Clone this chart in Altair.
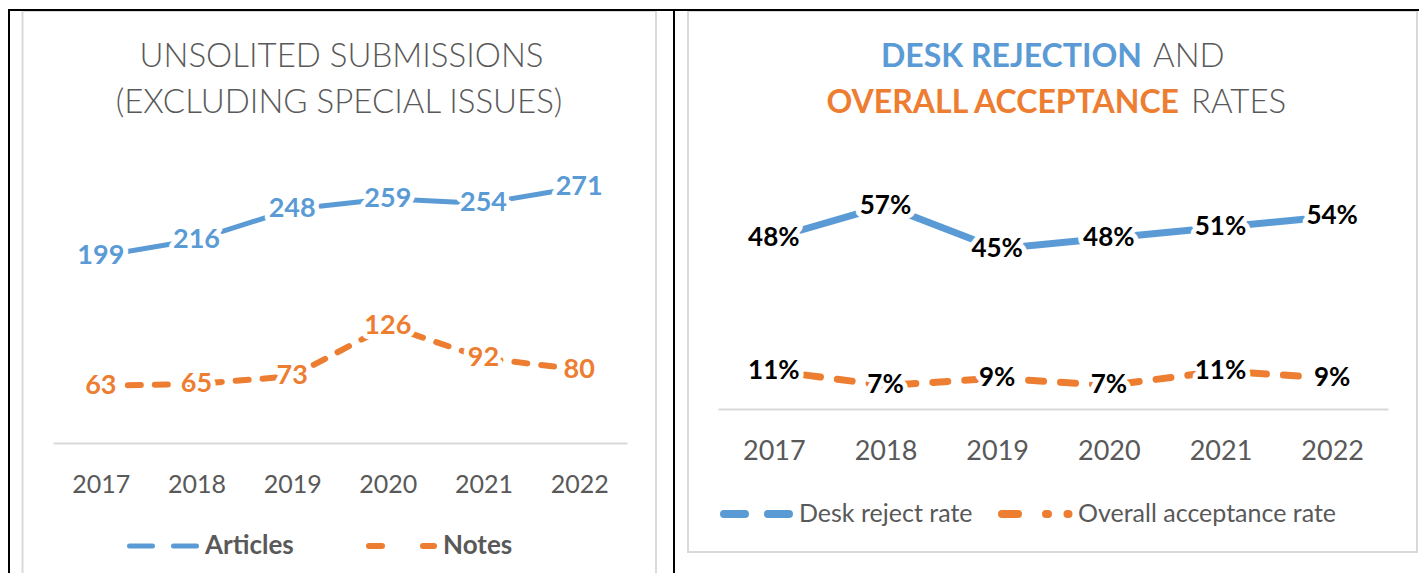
import altair as alt
import pandas as pd

# ---------------- data ----------------
years = ["2017", "2018", "2019", "2020", "2021", "2022"]
articles = [199, 216, 248, 259, 254, 271]
notes = [63, 65, 73, 126, 92, 80]
desk_reject = [0.48, 0.57, 0.45, 0.48, 0.51, 0.54]
acceptance = [0.11, 0.07, 0.09, 0.07, 0.11, 0.09]

BLUE = "#5B9BD5"
ORANGE = "#ED7D31"
GREY = "#595959"
FRAME = "#D9D9D9"
FONT = "Lato"

W, H = 1411, 565
one = pd.DataFrame({"k": [0]})


def frame(name_vals):
    return pd.DataFrame({"year": years, "value": name_vals})


def axis(offset, pad, size):
    return alt.Axis(orient="bottom", offset=offset, labelPadding=pad, labelFontSize=size,
                    labelFont=FONT, labelColor=GREY, labelAngle=0, labelBaseline="middle",
                    ticks=False, tickSize=0, grid=False, title=None, zindex=1,
                    domainColor=FRAME, domainWidth=2)


def series(vals, x, y, color, width, label_fmt, label_size, label_color, **dash):
    base = alt.Chart(frame(vals)).encode(x=x, y=y)
    line = base.mark_line(color=color, strokeWidth=width, strokeCap="round",
                          strokeJoin="round", **dash)
    txt = alt.Text("value:Q", format=label_fmt)
    halo = base.mark_text(font=FONT, fontSize=label_size, fontWeight="bold",
                          fill="white", stroke="white", strokeWidth=10,
                          strokeJoin="round", baseline="middle").encode(text=txt)
    label = base.mark_text(font=FONT, fontSize=label_size, fontWeight="bold",
                           color=label_color, baseline="middle").encode(text=txt)
    return line, halo, label


def deco_text(text, x, y, size, color, weight="normal", align="center"):
    return alt.Chart(one).mark_text(text=text, font=FONT, fontSize=size, fontWeight=weight,
                                    color=color, align=align, baseline="middle").encode(
        x=alt.value(x), y=alt.value(y))


def deco_rule(x1, x2, y, color, width, **kw):
    return alt.Chart(one).mark_rule(color=color, strokeWidth=width, **kw).encode(
        x=alt.value(x1), x2=alt.value(x2), y=alt.value(y))


def deco_vrule(x, y1, y2, color, width):
    return alt.Chart(one).mark_rule(color=color, strokeWidth=width).encode(
        x=alt.value(x), y=alt.value(y1), y2=alt.value(y2))


def deco_rect(x1, x2, y1, y2):
    return alt.Chart(one).mark_rect(filled=False, stroke=FRAME, strokeWidth=2).encode(
        x=alt.value(x1), x2=alt.value(x2), y=alt.value(y1), y2=alt.value(y2))


# ---------------- left panel ----------------
lx = alt.X("year:O", scale=alt.Scale(type="point", padding=0.5, range=[45, 619]),
           axis=axis(-130, 41, 25))
ly = alt.Y("value:Q", scale=alt.Scale(domain=[0, 300], range=[438, 151.5], nice=False), axis=None)

a_line, a_halo, a_lab = series(articles, lx, ly, BLUE, 5, "d", 27, BLUE)
n_line, n_halo, n_lab = series(notes, lx, ly, ORANGE, 6, "d", 27, ORANGE, strokeDash=[13, 14])
left = alt.layer(a_line, n_line, a_halo, n_halo, a_lab, n_lab)

# ---------------- right panel ----------------
rx = alt.X("year:O", scale=alt.Scale(type="point", padding=0.5, range=[710, 1380]),
           axis=axis(-164, 42, 27))
ry = alt.Y("value:Q", scale=alt.Scale(domain=[0, 0.7], range=[402.6, 150.9], nice=False), axis=None)

d_line, d_halo, d_lab = series(desk_reject, rx, ry, BLUE, 7, ".0%", 26, "black")
c_line, c_halo, c_lab = series(acceptance, rx, ry, ORANGE, 7, ".0%", 26, "black", strokeDash=[15, 17])
right = alt.layer(d_line, c_line, d_halo, c_halo, d_lab, c_lab)

# ---------------- decorations ----------------
frames = [deco_rect(14.5, 648, 3, 600), deco_rect(680, 1409, 3, 544)]

titles = [
    deco_text("UNSOLITED SUBMISSIONS", 333.5, 49, 33, GREY, 300),
    deco_text("(EXCLUDING SPECIAL ISSUES)", 331, 95, 33, GREY, 300),
    deco_text("DESK REJECTION", 1134, 49, 32, BLUE, "bold", "right"),
    deco_text("AND", 1145, 49, 33, GREY, 300, "left"),
    deco_text("OVERALL ACCEPTANCE", 1171, 95, 32, ORANGE, "bold", "right"),
    deco_text("RATES", 1183, 95, 33, GREY, 300, "left"),
]

legends = [
    deco_rule(121.5, 188.5, 538, BLUE, 5, strokeCap="round", strokeDash=[23, 21]),
    deco_text("Articles", 197, 538, 26, GREY, "bold", "left"),
    deco_rule(361, 426, 538, ORANGE, 6, strokeCap="round", strokeDash=[13, 41]),
    deco_text("Notes", 435, 538, 26, GREY, "bold", "left"),
    deco_rule(716, 782, 506, BLUE, 8, strokeCap="round", strokeDash=[21, 23]),
    deco_text("Desk reject rate", 791, 506, 25, GREY, "normal", "left"),
    deco_rule(994, 1061, 506, ORANGE, 8, strokeCap="round", strokeDash=[16, 28, 2, 19.5, 1, 50]),
    deco_text("Overall acceptance rate", 1070, 506, 25, GREY, "normal", "left"),
]

table_lines = [
    deco_rule(0, W, 2, "black", 2),
    deco_vrule(1, 1, H, "black", 2),
    deco_vrule(666, 1, H, "black", 2),
]

chart = alt.layer(*frames, left, right, *titles, *legends, *table_lines).resolve_scale(
    x="independent", y="independent"
).properties(
    width=W, height=H, padding=0, autosize=alt.AutoSizeParams(type="none"),
    background="white",
).configure_view(stroke=None)

chart.save("out.html", embed_options={"renderer": "svg", "actions": False})
